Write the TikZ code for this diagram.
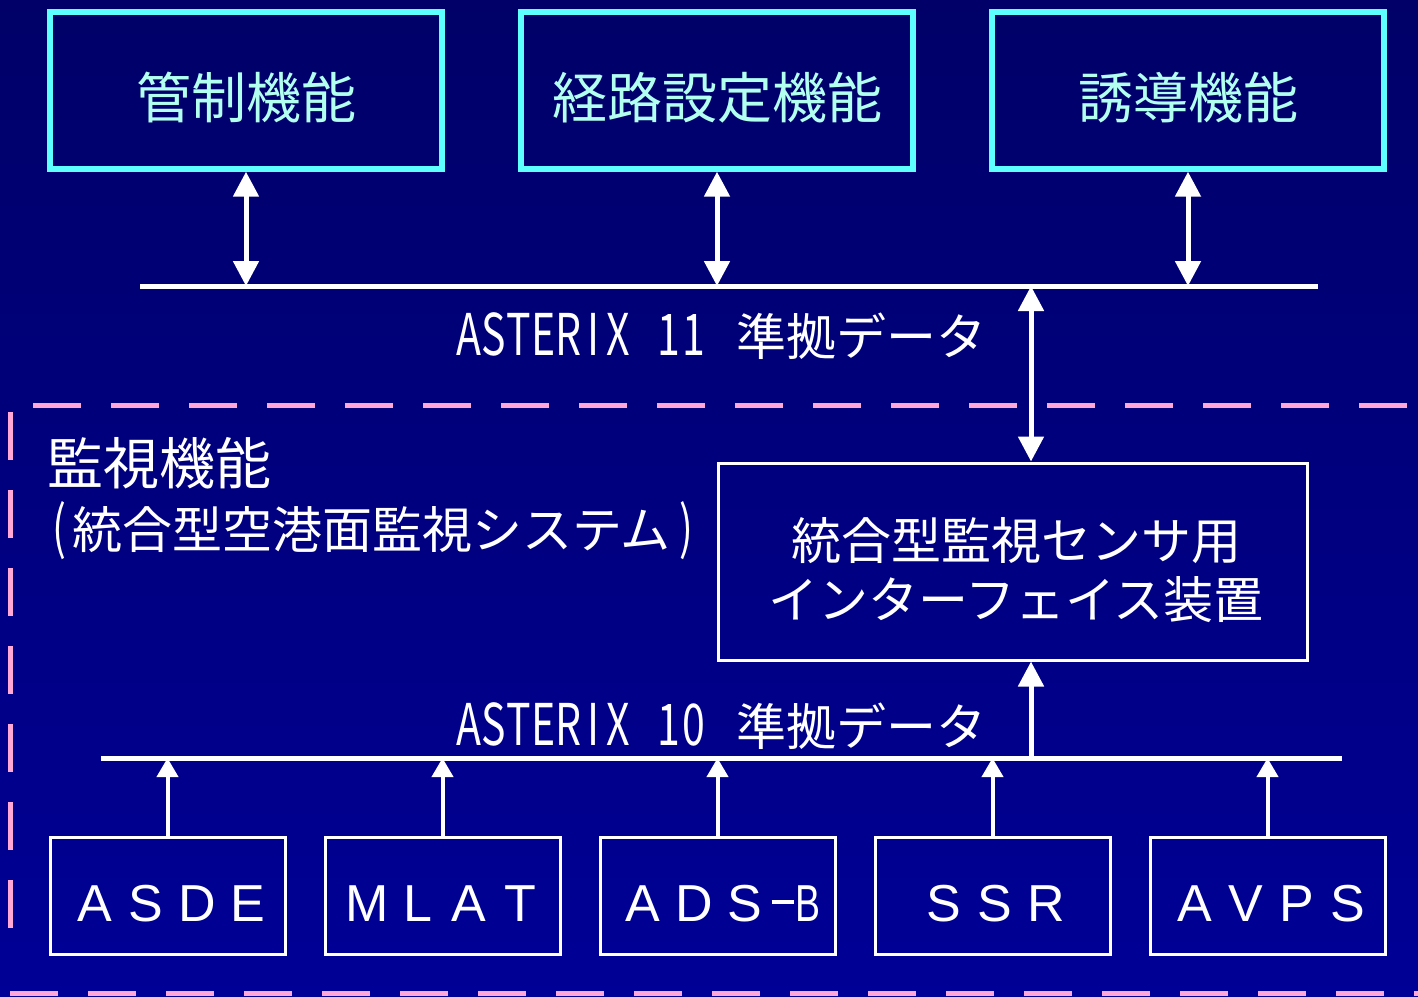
\documentclass[tikz,border=0pt]{standalone}
\usepackage{fontspec}
\usepackage{graphicx}
\usetikzlibrary{arrows.meta}
\newfontfamily\jp{Noto Sans CJK JP}
\newfontfamily\lat{Liberation Sans}
\definecolor{bgtop}{RGB}{0,0,104}
\definecolor{bgbot}{RGB}{0,0,150}
\definecolor{cyanline}{RGB}{94,255,255}
\definecolor{cyantext}{RGB}{178,255,240}
\definecolor{pinkdash}{RGB}{255,168,216}
\newcommand\hs[1]{\makebox[0.5em]{\scalebox{0.82}[1.15]{#1}}}
\newcommand\fw[1]{\makebox[51pt]{#1}}
\begin{document}
\begin{tikzpicture}[x=1pt,y=-1pt,
  topbox/.style={draw=cyanline, line width=6pt, minimum width=392pt, minimum height=156.7pt, inner sep=0pt},
  midbox/.style={draw=white, line width=3pt, minimum width=589pt, minimum height=197pt, inner sep=0pt},
  srcbox/.style={draw=white, line width=3pt, minimum width=235pt, minimum height=117pt, inner sep=0pt},
  toptext/.style={text=cyantext, font=\jp\fontsize{55pt}{60pt}\selectfont, anchor=base, inner sep=0pt},
  jptext/.style={text=white, font=\jp\fontsize{50pt}{59pt}\selectfont, inner sep=0pt},
  srctext/.style={text=white, font=\lat\fontsize{52pt}{56pt}\selectfont, anchor=base west, inner sep=0pt},
  bus/.style={draw=white, line width=5pt},
  dbl/.style={draw=white, line width=5pt, {Triangle[width=25pt,length=25pt]}-{Triangle[width=25pt,length=25pt]}},
  upbig/.style={draw=white, line width=5pt, -{Triangle[width=25pt,length=25pt]}},
  upsmall/.style={draw=white, line width=4pt, -{Triangle[width=21pt,length=19pt]}},
  pinkline/.style={draw=pinkdash, line width=5pt, dash pattern=on 48pt off 30pt}
]
\shade[top color=bgtop, bottom color=bgbot] (0,0) rectangle (1418,996);
\useasboundingbox (0,0) rectangle (1418,996);

% dashed boundary of the surveillance function
\draw[pinkline] (33,405) -- (1418,405);
\draw[pinkline] (10.5,412) -- (10.5,940);
\draw[pinkline] (10,993.5) -- (1418,993.5);

% top boxes
\node[topbox] (ctl) at (246,90.35) {};
\node[topbox] (rte) at (717,90.35) {};
\node[topbox] (gdn) at (1188,90.35) {};
\node[toptext] (ctlt) at (246,118) {管制機能};
\node[toptext] (rtet) at (717,118) {経路設定機能};
\node[toptext] (gdnt) at (1188,118) {誘導機能};

% ASTERIX 11 bus
\coordinate (b11w) at (140,286);
\coordinate (b11e) at (1318,286);
\coordinate (j11) at (1031,286);
\draw[bus] (b11w) -- (b11e);
\draw[dbl] (ctl.south) -- (ctl.south |- b11w);
\draw[dbl] (rte.south) -- (rte.south |- b11w);
\draw[dbl] (gdn.south) -- (gdn.south |- b11w);
\node[jptext, anchor=base west] (a11) at (456,355) {\hs{A}\hs{S}\hs{T}\hs{E}\hs{R}\hs{I}\hs{X}\hspace{0.5em}\hs{1}\hs{1}\hspace{0.6em}準拠データ};

% interface box
\node[midbox] (ifc) at (1012.5,561.5) {};
\node[jptext, anchor=base] (ifc1) at (1016,559) {統合型監視センサ用};
\node[jptext, anchor=base] (ifc2) at (1016,618) {インターフェイス装置};
\draw[dbl] (j11) -- (j11 |- ifc.north);

% surveillance label
\node[text=white, font=\jp\fontsize{56pt}{60pt}\selectfont, anchor=base west, inner sep=0pt] (sv1) at (47,484) {監視機能};
\node[jptext, anchor=base west] (sv2) at (47,548) {\hs{(}統合型空港面監視システム\hspace{3pt}\hs{)}};

% ASTERIX 10 bus
\coordinate (b10w) at (101,758);
\coordinate (b10e) at (1342,758);
\coordinate (j10) at (1031,758);
\draw[bus] (b10w) -- (b10e);
\draw[upbig] (j10) -- (j10 |- ifc.south);
\node[jptext, anchor=base west] (a10) at (456,745) {\hs{A}\hs{S}\hs{T}\hs{E}\hs{R}\hs{I}\hs{X}\hspace{0.5em}\hs{1}\hs{0}\hspace{0.6em}準拠データ};

% sensor boxes
\node[srcbox] (asde) at (167.5,895.5) {};
\node[srcbox] (mlat) at (442.5,895.5) {};
\node[srcbox] (adsb) at (717.5,895.5) {};
\node[srcbox] (ssr) at (992.5,895.5) {};
\node[srcbox] (avps) at (1267.5,895.5) {};
\node[srctext] (asdet) at (69.5,921) {\fw{A}\fw{S}\fw{D}\fw{E}};
\node[srctext] (mlatt) at (341.5,921) {\fw{M}\fw{L}\fw{A}\fw{T}};
\node[srctext] (adsbt) at (617.5,921) {\fw{A}\fw{D}\fw{S}\hspace{1pt}\rule[17pt]{22pt}{4pt}\hspace{2pt}\scalebox{0.72}[1]{B}};
\node[srctext] (ssrt) at (918.5,921) {\fw{S}\fw{S}\fw{R}};
\node[srctext] (avpst) at (1169,921) {\fw{A}\fw{V}\fw{P}\fw{S}};
\draw[upsmall] (asde.north) -- (asde.north |- b10w);
\draw[upsmall] (mlat.north) -- (mlat.north |- b10w);
\draw[upsmall] (adsb.north) -- (adsb.north |- b10w);
\draw[upsmall] (ssr.north) -- (ssr.north |- b10w);
\draw[upsmall] (avps.north) -- (avps.north |- b10w);
\end{tikzpicture}
\end{document}
